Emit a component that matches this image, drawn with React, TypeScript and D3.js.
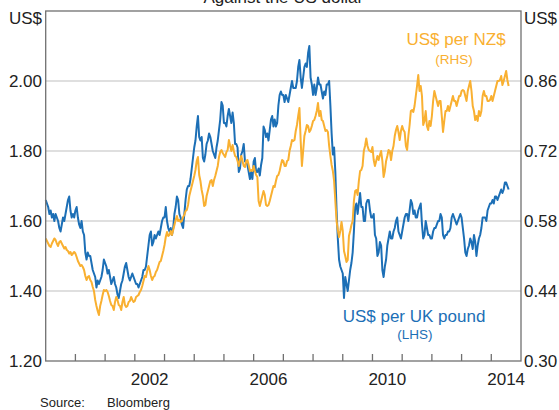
import React from "react";
import * as d3 from "d3";

const START_YEAR = 1999;
const STEPS_PER_YEAR = 24;

const gbpValues: number[] = [
  // 1999
  1.66,1.65,1.64,1.62,1.63,1.61,1.62,1.60,1.62,1.61,1.60,1.58,1.57,1.59,1.61,1.60,1.62,1.64,1.66,1.67,1.63,1.61,1.62,1.61,
  // 2000
  1.63,1.64,1.61,1.59,1.58,1.60,1.57,1.56,1.51,1.49,1.51,1.50,1.50,1.48,1.46,1.45,1.44,1.41,1.43,1.42,1.43,1.44,1.46,1.49,
  // 2001
  1.48,1.47,1.45,1.46,1.44,1.42,1.43,1.44,1.42,1.41,1.39,1.38,1.40,1.42,1.43,1.45,1.47,1.48,1.46,1.44,1.43,1.44,1.45,1.44,
  // 2002
  1.43,1.42,1.42,1.41,1.42,1.43,1.44,1.46,1.46,1.47,1.50,1.53,1.56,1.57,1.53,1.54,1.56,1.55,1.56,1.57,1.56,1.58,1.60,1.61,
  // 2003
  1.61,1.64,1.60,1.58,1.57,1.58,1.56,1.58,1.62,1.64,1.67,1.66,1.62,1.61,1.59,1.58,1.62,1.66,1.69,1.70,1.70,1.72,1.75,1.78,
  // 2004
  1.81,1.83,1.87,1.90,1.84,1.83,1.84,1.78,1.77,1.79,1.82,1.83,1.85,1.84,1.82,1.80,1.79,1.78,1.81,1.83,1.86,1.89,1.94,1.93,
  // 2005
  1.88,1.88,1.87,1.90,1.92,1.90,1.88,1.91,1.88,1.82,1.82,1.81,1.74,1.75,1.79,1.80,1.82,1.77,1.77,1.76,1.74,1.72,1.74,1.72,
  // 2006
  1.77,1.78,1.74,1.74,1.75,1.73,1.76,1.78,1.87,1.86,1.84,1.85,1.83,1.86,1.89,1.90,1.87,1.89,1.87,1.88,1.93,1.96,1.97,1.96,
  // 2007
  1.96,1.94,1.96,1.95,1.94,1.96,1.98,2.00,1.98,1.98,1.98,2.00,2.04,2.06,2.01,1.98,2.01,2.04,2.05,2.04,2.08,2.10,2.01,1.99,
  // 2008
  1.96,1.99,1.96,1.98,2.01,1.99,1.99,1.97,1.95,1.97,1.96,1.99,1.99,2.00,1.93,1.85,1.79,1.81,1.74,1.63,1.55,1.49,1.47,1.46,
  // 2009
  1.45,1.38,1.44,1.42,1.40,1.43,1.46,1.48,1.51,1.57,1.64,1.65,1.62,1.65,1.68,1.64,1.64,1.60,1.60,1.65,1.66,1.66,1.63,1.61,
  // 2010
  1.61,1.62,1.56,1.55,1.50,1.51,1.54,1.53,1.46,1.44,1.47,1.49,1.53,1.55,1.57,1.55,1.55,1.57,1.58,1.60,1.61,1.57,1.56,1.55,
  // 2011
  1.57,1.59,1.61,1.62,1.62,1.60,1.63,1.66,1.65,1.62,1.63,1.61,1.61,1.63,1.64,1.65,1.59,1.55,1.56,1.60,1.58,1.56,1.56,1.55,
  // 2012
  1.55,1.57,1.58,1.58,1.59,1.60,1.60,1.62,1.61,1.56,1.55,1.56,1.56,1.57,1.57,1.58,1.61,1.62,1.61,1.60,1.59,1.60,1.61,1.62,
  // 2013
  1.61,1.58,1.55,1.51,1.50,1.52,1.53,1.55,1.54,1.52,1.56,1.54,1.50,1.53,1.55,1.56,1.58,1.61,1.61,1.61,1.60,1.63,1.64,1.65,
  // 2014
  1.65,1.66,1.65,1.67,1.67,1.66,1.67,1.68,1.69,1.68,1.69,1.71,1.71,1.70,1.69,
];

const nzdValues: number[] = [
  // 1999
  0.545,0.540,0.535,0.530,0.528,0.535,0.540,0.545,0.542,0.535,0.530,0.538,0.540,0.535,0.530,0.525,0.528,0.522,0.520,0.515,0.518,0.512,0.515,0.518,
  // 2000
  0.515,0.508,0.500,0.495,0.490,0.492,0.488,0.482,0.470,0.462,0.468,0.470,0.462,0.458,0.448,0.440,0.422,0.410,0.400,0.392,0.410,0.420,0.432,0.442,
  // 2001
  0.440,0.442,0.438,0.430,0.420,0.412,0.410,0.402,0.418,0.428,0.422,0.412,0.410,0.402,0.418,0.428,0.412,0.408,0.410,0.418,0.420,0.428,0.422,0.418,
  // 2002
  0.420,0.428,0.430,0.432,0.438,0.442,0.450,0.460,0.470,0.468,0.480,0.490,0.482,0.470,0.462,0.468,0.470,0.478,0.482,0.490,0.498,0.500,0.510,0.520,
  // 2003
  0.532,0.548,0.558,0.550,0.552,0.560,0.552,0.562,0.572,0.582,0.590,0.580,0.582,0.578,0.580,0.588,0.592,0.600,0.602,0.612,0.630,0.640,0.650,0.660,
  // 2004
  0.670,0.682,0.700,0.708,0.672,0.660,0.642,0.630,0.610,0.612,0.630,0.640,0.650,0.660,0.662,0.650,0.662,0.670,0.680,0.690,0.708,0.718,0.722,0.716,
  // 2005
  0.712,0.708,0.718,0.722,0.742,0.730,0.720,0.732,0.720,0.710,0.708,0.700,0.690,0.702,0.710,0.700,0.690,0.688,0.700,0.702,0.692,0.680,0.682,0.680,
  // 2006
  0.690,0.680,0.672,0.668,0.620,0.610,0.620,0.630,0.640,0.632,0.612,0.610,0.612,0.620,0.630,0.640,0.650,0.648,0.660,0.670,0.672,0.680,0.692,0.702,
  // 2007
  0.700,0.690,0.690,0.700,0.702,0.720,0.730,0.742,0.740,0.742,0.760,0.772,0.790,0.806,0.740,0.690,0.720,0.750,0.760,0.772,0.770,0.758,0.762,0.770,
  // 2008
  0.780,0.782,0.790,0.800,0.816,0.790,0.800,0.782,0.780,0.770,0.760,0.762,0.758,0.730,0.710,0.692,0.680,0.660,0.620,0.580,0.562,0.548,0.560,0.578,
  // 2009
  0.560,0.520,0.510,0.498,0.502,0.550,0.560,0.572,0.580,0.620,0.640,0.642,0.632,0.660,0.680,0.682,0.690,0.720,0.730,0.745,0.730,0.722,0.720,0.718,
  // 2010
  0.728,0.702,0.690,0.700,0.710,0.702,0.712,0.720,0.700,0.668,0.680,0.700,0.710,0.722,0.720,0.702,0.720,0.730,0.750,0.762,0.770,0.758,0.742,0.760,
  // 2011
  0.770,0.762,0.758,0.730,0.722,0.750,0.772,0.800,0.802,0.798,0.810,0.830,0.850,0.872,0.840,0.850,0.830,0.772,0.780,0.800,0.770,0.762,0.780,0.770,
  // 2012
  0.790,0.820,0.840,0.830,0.820,0.810,0.820,0.820,0.790,0.758,0.780,0.800,0.800,0.810,0.800,0.810,0.820,0.830,0.820,0.820,0.810,0.820,0.830,0.830,
  // 2013
  0.840,0.842,0.840,0.830,0.820,0.840,0.850,0.860,0.840,0.810,0.800,0.782,0.790,0.780,0.800,0.790,0.800,0.830,0.840,0.830,0.830,0.820,0.820,0.822,
  // 2014
  0.830,0.820,0.830,0.840,0.850,0.860,0.860,0.862,0.870,0.852,0.860,0.870,0.880,0.862,0.850,
];

const leftTicks = [1.2, 1.4, 1.6, 1.8, 2.0];
const rightTicks = [0.3, 0.44, 0.58, 0.72, 0.86];
const yearLabels = [2002, 2006, 2010, 2014];
const yearTicks = d3.range(2000, 2015);

const W = 559;
const H = 410;
const M = { left: 45.7, right: 521, top: 11, bottom: 361 };
const FONT = "'Liberation Sans', Arial, Helvetica, sans-serif";
const BLUE = "#1C6FB6";
const ORANGE = "#F9B031";
const FRAME = "#707070";
const GRID = "#d4d4d4";
const TEXT = "#222";

export default function App() {
  const x = d3.scaleLinear().domain([1999, 2015]).range([M.left, M.right]);
  const yL = d3.scaleLinear().domain([1.2, 2.2]).range([M.bottom, M.top]);
  const yR = d3.scaleLinear().domain([0.3, 1.0]).range([M.bottom, M.top]);

  const tOf = (i: number) => START_YEAR + i / STEPS_PER_YEAR;
  const gbpLine = d3
    .line<number>()
    .x((_, i) => x(tOf(i)))
    .y((d) => yL(d));
  const nzdLine = d3
    .line<number>()
    .x((_, i) => x(tOf(i)))
    .y((d) => yR(d));

  return (
    <svg
      width={W}
      height={H}
      style={{ position: "absolute", left: 0, top: 0, background: "#fff" }}
      fontFamily={FONT}
    >
      <text x={(M.left + M.right) / 2} y={3} textAnchor="middle" fontSize={17} fill={TEXT}>
        Against the US dollar
      </text>

      {leftTicks.slice(1).map((v) => (
        <line key={v} x1={M.left} x2={M.right} y1={yL(v)} y2={yL(v)} stroke={GRID} strokeWidth={1.3} />
      ))}

      <path d={gbpLine(gbpValues) || ""} fill="none" stroke={BLUE} strokeWidth={2} strokeLinejoin="round" />
      <path d={nzdLine(nzdValues) || ""} fill="none" stroke={ORANGE} strokeWidth={2} strokeLinejoin="round" />

      {/* frame */}
      <rect
        x={M.left}
        y={M.top}
        width={M.right - M.left}
        height={M.bottom - M.top}
        fill="none"
        stroke={FRAME}
        strokeWidth={1.3}
      />

      {yearTicks.map((yr) => (
        <line key={yr} x1={x(yr)} x2={x(yr)} y1={M.bottom} y2={M.bottom - 7} stroke={FRAME} strokeWidth={1.3} />
      ))}

      {yearLabels.map((yr) => (
        <text key={yr} x={x(yr + 0.5)} y={385} textAnchor="middle" fontSize={17} fill={TEXT}>
          {yr}
        </text>
      ))}

      {leftTicks.map((v) => (
        <text key={v} x={42} y={yL(v) + 6} textAnchor="end" fontSize={17} fill={TEXT}>
          {v.toFixed(2)}
        </text>
      ))}
      {rightTicks.map((v) => (
        <text key={v} x={524} y={yR(v) + 6} textAnchor="start" fontSize={17} fill={TEXT}>
          {v.toFixed(2)}
        </text>
      ))}

      <text x={42} y={24} textAnchor="end" fontSize={17} fill={TEXT}>US$</text>
      <text x={524} y={24} textAnchor="start" fontSize={17} fill={TEXT}>US$</text>

      <text x={456} y={45} textAnchor="middle" fontSize={17} fill={ORANGE}>US$ per NZ$</text>
      <text x={454} y={64} textAnchor="middle" fontSize={13.5} fill={ORANGE}>(RHS)</text>

      <text x={414} y={322} textAnchor="middle" fontSize={17} fill={BLUE}>US$ per UK pound</text>
      <text x={415} y={339} textAnchor="middle" fontSize={13.5} fill={BLUE}>(LHS)</text>

      <text x={40} y={407} fontSize={13} fill={TEXT}>Source:</text>
      <text x={107} y={407} fontSize={13} fill={TEXT}>Bloomberg</text>
    </svg>
  );
}
